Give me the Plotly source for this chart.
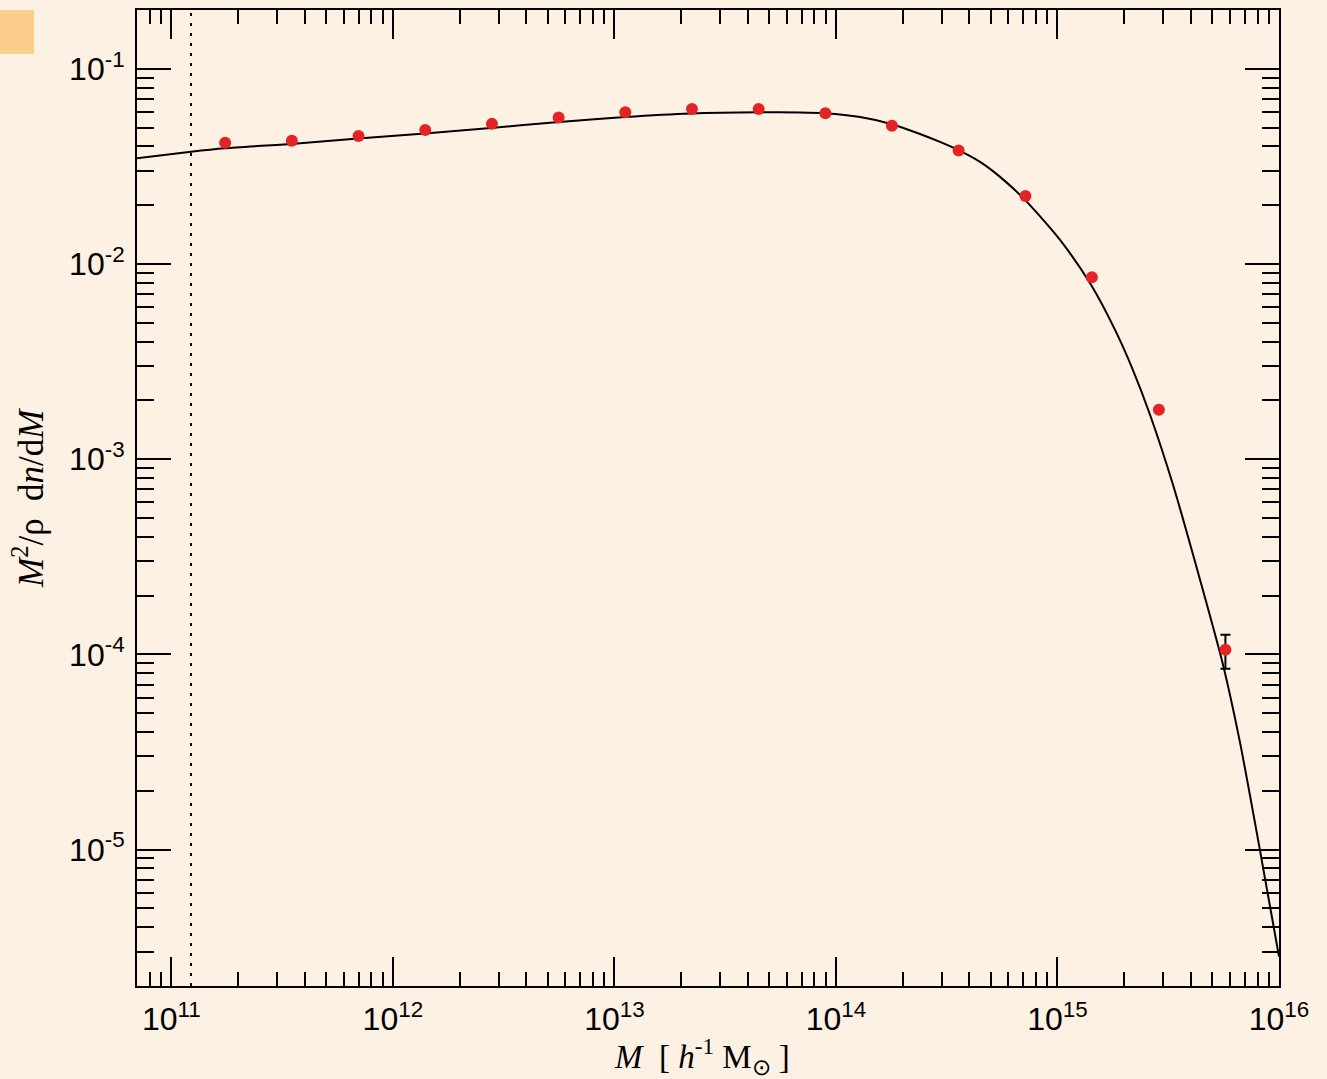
import math
import plotly.graph_objects as go

# ---- data ----
sim_mass = [1.75e11, 3.5e11, 7.0e11, 1.4e12, 2.8e12, 5.6e12, 1.12e13, 2.24e13,
            4.48e13, 8.96e13, 1.79e14, 3.58e14, 7.17e14, 1.43e15, 2.87e15, 5.73e15]
sim_value = [0.0418, 0.0428, 0.0453, 0.0486, 0.0522, 0.0562, 0.0599, 0.0622,
             0.0622, 0.0592, 0.0511, 0.0381, 0.0223, 0.00856, 0.00179, 1.057e-4]
sim_err_plus = [0, 0, 0, 0, 0, 0, 0, 0, 0, 0, 0, 0, 0, 0, 0.00004, 2.04e-5]
sim_err_minus = [0, 0, 0, 0, 0, 0, 0, 0, 0, 0, 0, 0, 0, 0, 0.00004, 2.13e-5]

fit_mass = [7.0e10, 1.227e11, 1.747e11, 3.47e11, 6.96e11, 1.396e12, 2.773e12, 5.12e12,
            1.116e13, 2.217e13, 4.449e13, 6.885e13, 8.93e13, 1.285e14, 1.773e14,
            2.396e14, 2.950e14, 3.557e14, 4.472e14, 5.505e14, 7.137e14, 1.027e15,
            1.417e15, 1.819e15, 2.171e15, 2.617e15, 3.323e15, 4.401e15, 5.588e15,
            6.67e15, 8.12e15, 1.0e16]
fit_value = [0.03479, 0.03761, 0.03917, 0.04120, 0.04395, 0.04661, 0.04974, 0.05294,
             0.05661, 0.05902, 0.05987, 0.05973, 0.05917, 0.05661, 0.05217,
             0.04635, 0.04218, 0.03839, 0.03332, 0.02793, 0.02129, 0.01328,
             0.00782, 0.004597, 0.002937, 0.001688, 7.39e-4, 2.412e-4, 8.85e-5,
             3.53e-5, 1.06e-5, 2.83e-6]

resolution_mass = 1.227e11

x_tickvals = [1e11, 1e12, 1e13, 1e14, 1e15, 1e16]
x_ticktext = ["10<sup>11</sup>", "10<sup>12</sup>", "10<sup>13</sup>",
              "10<sup>14</sup>", "10<sup>15</sup>", "10<sup>16</sup>"]
y_tickvals = [1e-5, 1e-4, 1e-3, 1e-2, 1e-1]
y_ticktext = ["10<sup>-5</sup>", "10<sup>-4</sup>", "10<sup>-3</sup>",
              "10<sup>-2</sup>", "10<sup>-1</sup>"]

x_range = [7e10, 1e16]
y_range = [2e-6, 2e-1]

# minor ticks 2..9 per decade
x_minor = [k * 10 ** d for d in range(10, 16) for k in range(2, 10)
           if x_range[0] < k * 10 ** d < x_range[1]]
y_minor = [k * 10 ** d for d in range(-6, 0) for k in range(2, 10)
           if y_range[0] < k * 10 ** d < y_range[1]]

BG = "rgb(253,241,227)"
W, H = 1327, 1079
L, R, T, B = 137, 48, 10, 93
pw, ph = W - L - R, H - T - B

fig = go.Figure()

fig.add_trace(go.Scatter(
    x=fit_mass, y=fit_value, mode="lines",
    line=dict(color="black", width=2, shape="spline", smoothing=0.7),
    showlegend=False, hoverinfo="skip"))

fig.add_trace(go.Scatter(
    x=[resolution_mass, resolution_mass], y=y_range, mode="lines",
    line=dict(color="black", width=2, dash="3px,7px"),
    showlegend=False, hoverinfo="skip"))

fig.add_trace(go.Scatter(
    x=sim_mass, y=sim_value, mode="markers",
    marker=dict(color="rgb(228,36,36)", size=12),
    error_y=dict(type="data", array=sim_err_plus, arrayminus=sim_err_minus,
                 color="black", thickness=2, width=5),
    showlegend=False))

tickfont = dict(family="Liberation Sans, Arial, sans-serif", size=32, color="black")

fig.update_xaxes(
    type="log", range=[math.log10(v) for v in x_range],
    tickvals=x_tickvals, ticktext=x_ticktext, tickfont=tickfont,
    ticks="inside", ticklen=29, tickwidth=2, tickcolor="black",
    minor=dict(tickvals=x_minor, ticks="inside", ticklen=14, tickwidth=2,
               tickcolor="black", showgrid=False),
    showline=True, linewidth=2, linecolor="black", mirror="ticks",
    showgrid=False, zeroline=False, ticklabelstandoff=4)

fig.update_yaxes(
    type="log", range=[math.log10(v) for v in y_range],
    tickvals=y_tickvals, ticktext=y_ticktext, tickfont=tickfont,
    ticks="inside", ticklen=34, tickwidth=2, tickcolor="black",
    minor=dict(tickvals=y_minor, ticks="inside", ticklen=17, tickwidth=2,
               tickcolor="black", showgrid=False),
    showline=True, linewidth=2, linecolor="black", mirror="ticks",
    showgrid=False, zeroline=False, ticklabelstandoff=4)

fig.add_annotation(
    text="<i>M</i>  [ <i>h</i><sup>-1</sup> M<sub>⊙</sub> ]",
    xref="paper", yref="paper", x=(702 - L) / pw, y=-(1056 - (T + ph)) / ph,
    xanchor="center", yanchor="middle", showarrow=False,
    font=dict(family="Liberation Serif, Times New Roman, serif", size=33, color="black"))

fig.add_annotation(
    text="<i>M</i><sup>2</sup>/ρ  d<i>n</i>/d<i>M</i>",
    xref="paper", yref="paper", x=(28 - L) / pw, y=(T + ph - 498) / ph,
    xanchor="center", yanchor="middle", textangle=-90, showarrow=False,
    font=dict(family="Liberation Serif, Times New Roman, serif", size=35, color="black"))

# orange square at top-left corner
fig.add_shape(type="rect", xref="paper", yref="paper",
              x0=(0 - L) / pw, x1=(34 - L) / pw,
              y0=(T + ph - 54) / ph, y1=(T + ph - 10) / ph,
              fillcolor="rgb(252,206,140)", line=dict(width=0), layer="below")

fig.update_layout(
    width=W, height=H,
    margin=dict(l=L, r=R, t=T, b=B, autoexpand=False),
    paper_bgcolor=BG, plot_bgcolor=BG,
    showlegend=False)

fig.write_html(
    "out.html",
    config={"displayModeBar": False},
    post_script="document.body.style.margin='0px';document.body.style.overflow='hidden';"
                "document.body.style.background='" + BG + "';")
